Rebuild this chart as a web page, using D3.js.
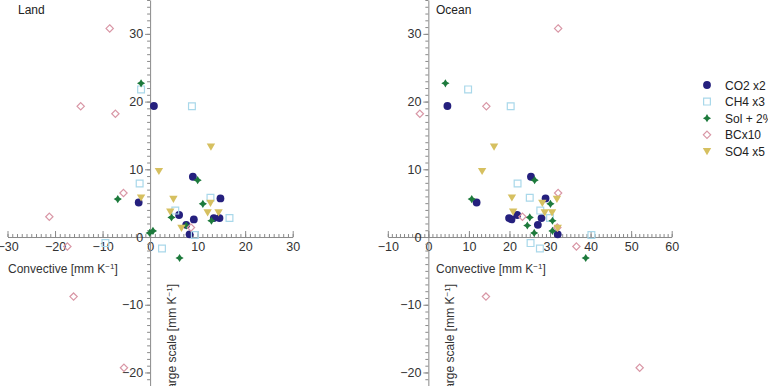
<!DOCTYPE html>
<html>
<head>
<meta charset="utf-8">
<script src="https://cdn.jsdelivr.net/npm/d3@7"></script>
<style>
  body { margin: 0; background: #fff; }
  svg { display: block; font-family: "Liberation Sans", Arial, sans-serif; }
</style>
</head>
<body>
<div id="chart"></div>
<script>
// Large-scale response (shared by both panels), and convective response over land / ocean
const co2Large  = [19.35, 5.1, 8.9, 3.25, 1.8, 0.4, 2.6, 2.8, 2.8, 5.7];
const co2Land   = [0.8, -2.4, 9.0, 6.1, 7.6, 8.3, 9.2, 13.4, 14.6, 14.8];
const co2Ocean  = [4.7, 11.9, 25.3, 21.9, 27.0, 31.9, 20.5, 19.9, 27.9, 28.9];

const ch4Large  = [21.8, 19.3, 7.9, 5.8, 3.9, 2.8, -0.9, -1.7, 0.3];
const ch4Land   = [-1.9, 8.8, -2.2, 12.7, 5.3, 16.7, -9.4, 2.5, 9.4];
const ch4Ocean  = [9.8, 20.3, 22.0, 25.0, 27.6, 30.0, 25.2, 27.5, 40.2];

const solLarge  = [22.7, 5.6, 8.4, 4.9, 2.9, 2.4, 0.9, 0.6, -3.1, 1.7];
const solLand   = [-1.9, -6.8, 10.0, 11.1, 4.5, 12.9, 0.6, -0.1, 6.2, 7.6];
const solOcean  = [4.2, 10.7, 26.2, 30.1, 25.0, 30.6, 30.6, 26.1, 38.8, 24.4];

const bcLarge   = [30.8, 19.3, 18.2, 6.5, 3.0, -1.4, -8.8, -19.3, 1.4];
const bcLand    = [-8.5, -14.6, -7.3, -5.6, -21.2, -17.4, -16.1, -5.5, 8.6];
const bcOcean   = [32.0, 14.3, -2.1, 32.0, 23.2, 36.5, 14.2, 52.1, 31.8];

const so4Large  = [13.3, 9.7, 5.8, 5.6, 5.0, 3.7, 3.6, 3.6, 1.3];
const so4Land   = [12.8, 1.85, -1.9, 4.9, 12.7, 4.25, 12.1, 14.4, 6.6];
const so4Ocean  = [16.2, 13.25, 20.6, 31.7, 28.1, 20.9, 28.7, 30.5, 31.9];

const seriesNames = ["CO2 x2", "CH4 x3", "Sol + 2%", "BCx10", "SO4 x5"];

const W = 768, H = 386;

// 4-pointed star for the solar series
const star4 = {
  draw(ctx, size) {
    const r = Math.sqrt(size) * 0.75, q = r * 0.38;
    ctx.moveTo(0, -r);
    ctx.lineTo(q, -q); ctx.lineTo(r, 0); ctx.lineTo(q, q);
    ctx.lineTo(0, r); ctx.lineTo(-q, q); ctx.lineTo(-r, 0); ctx.lineTo(-q, -q);
    ctx.closePath();
  }
};
const triDown = {
  draw(ctx, size) {
    const s = Math.sqrt(size) * 0.62;
    ctx.moveTo(-s, -s * 0.8); ctx.lineTo(s, -s * 0.8); ctx.lineTo(0, s * 0.9);
    ctx.closePath();
  }
};

const series = [
  { name: seriesNames[0], large: co2Large, land: co2Land, ocean: co2Ocean,
    type: d3.symbolCircle, size: 48, fill: "#25207e", stroke: "none" },
  { name: seriesNames[1], large: ch4Large, land: ch4Land, ocean: ch4Ocean,
    type: d3.symbolSquare, size: 46, fill: "none", stroke: "#a9d8ea" },
  { name: seriesNames[2], large: solLarge, land: solLand, ocean: solOcean,
    type: star4, size: 30, fill: "#1d7a3c", stroke: "none" },
  { name: seriesNames[3], large: bcLarge, land: bcLand, ocean: bcOcean,
    type: d3.symbolDiamond2, size: 34, fill: "none", stroke: "#d997a6" },
  { name: seriesNames[4], large: so4Large, land: so4Land, ocean: so4Ocean,
    type: triDown, size: 46, fill: "#d6c060", stroke: "none" }
];

const svg = d3.select("#chart").append("svg")
  .attr("width", W).attr("height", H);

const y = d3.scaleLinear().domain([-22, 35]).range([H, 0]);

const panels = [
  { key: "land", title: "Land", x: d3.scaleLinear().domain([-30, 30]).range([7.5, 292.7]), titleX: 18 },
  { key: "ocean", title: "Ocean", x: d3.scaleLinear().domain([-10, 60]).range([387.8, 671.7]), titleX: 436 }
];

const axisColor = "#8a8a8a";

function styleAxis(g) {
  g.selectAll("path, line").attr("stroke", axisColor);
  g.selectAll("text").attr("fill", "#333").style("font-size", "12.5px")
    .style("font-family", "'Liberation Sans', Arial, sans-serif");
}

function addUnitTitle(sel, label) {
  sel.text(label + " [mm K");
  sel.append("tspan").attr("dy", -4).style("font-size", "8px").text("\u22121");
  sel.append("tspan").attr("dy", 4).text("]");
}

panels.forEach(p => {
  const x = p.x;
  const x0 = x(0), y0 = y(0);
  const g = svg.append("g");

  // x axis: minor ticks every 1, major every 10, ticks pointing up
  g.append("g")
    .attr("transform", `translate(0,${y0})`)
    .call(d3.axisBottom(x).tickValues(d3.range(x.domain()[0], x.domain()[1] + 1, 1))
      .tickSizeInner(-3).tickSizeOuter(0).tickFormat(""))
    .call(styleAxis);
  g.append("g")
    .attr("transform", `translate(0,${y0})`)
    .call(d3.axisBottom(x).tickValues(d3.range(x.domain()[0], x.domain()[1] + 1, 10))
      .tickSizeInner(-6).tickSizeOuter(0).tickPadding(5).tickFormat(d3.format("d")))
    .call(g2 => g2.select(".domain").remove())
    .call(styleAxis);

  // y axis: full height, ticks pointing left
  g.append("g")
    .attr("transform", `translate(${x0},0)`)
    .call(d3.axisLeft(y).tickValues(d3.range(-22, 36, 1))
      .tickSize(3).tickSizeOuter(0).tickFormat(""))
    .call(styleAxis);
  g.append("g")
    .attr("transform", `translate(${x0},0)`)
    .call(d3.axisLeft(y).tickValues([-20, -10, 0, 10, 20, 30])
      .tickSize(5).tickPadding(2).tickFormat(d3.format("d")))
    .call(g2 => g2.select(".domain").remove())
    .call(styleAxis);

  // panel title
  g.append("text").attr("x", p.titleX).attr("y", 14)
    .attr("fill", "#222").style("font-size", "12px").text(p.title);

  // axis titles
  g.append("text")
    .attr("x", p.key === "land" ? 8 : 436).attr("y", 273)
    .attr("fill", "#333").style("font-size", "12px")
    .call(addUnitTitle, "Convective");
  g.append("text")
    .attr("transform", `translate(${x0 + 26},284) rotate(-90)`)
    .attr("text-anchor", "end")
    .attr("fill", "#333").style("font-size", "12px")
    .call(addUnitTitle, "Large scale");

  // points
  series.forEach(s => {
    const pts = s.large.map((v, i) => ({ cx: s[p.key][i], ly: v }));
    g.append("g").selectAll("path")
      .data(pts)
      .join("path")
        .attr("d", d3.symbol().type(s.type).size(s.size))
        .attr("transform", d => `translate(${x(d.cx)},${y(d.ly)})`)
        .attr("fill", s.fill)
        .attr("stroke", s.stroke)
        .attr("stroke-width", s.stroke === "none" ? 0 : 1.2);
  });
});

// legend
const legend = svg.append("g").attr("transform", "translate(707,85)");
series.forEach((s, i) => {
  const row = legend.append("g").attr("transform", `translate(0,${i * 16.6})`);
  row.append("path")
    .attr("d", d3.symbol().type(s.type).size(s.size))
    .attr("fill", s.fill).attr("stroke", s.stroke)
    .attr("stroke-width", s.stroke === "none" ? 0 : 1.2);
  row.append("text").attr("x", 18).attr("y", 4.5)
    .attr("fill", "#222").style("font-size", "12px").text(s.name);
});
</script>
</body>
</html>
